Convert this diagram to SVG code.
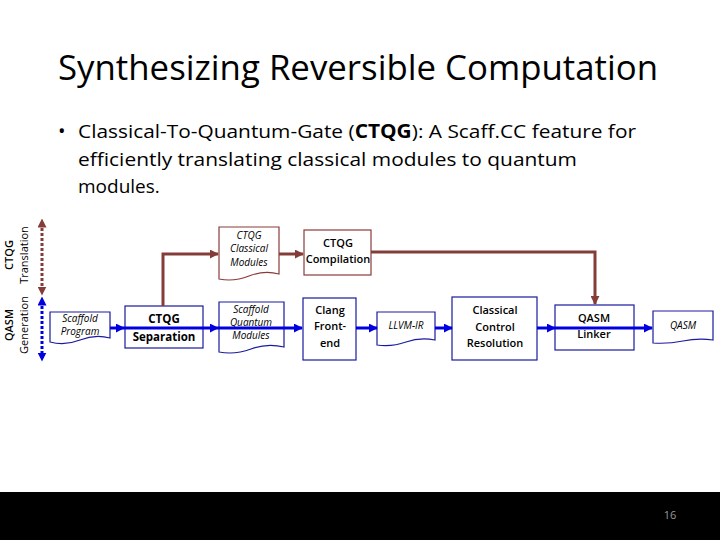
<svg xmlns="http://www.w3.org/2000/svg" width="720" height="540" viewBox="0 0 720 540">
<defs>
<style>
text{font-family:"Open Sans","Liberation Sans",sans-serif;fill:#000}
.box{fill:#fff;stroke:#1a1aa0;stroke-width:1.2}
.bbox{fill:#fff;stroke:#8b3a3a;stroke-width:1.2}
.n{font-size:11.5px;font-weight:bold;text-anchor:middle}
.s{font-size:11px;font-weight:600;text-anchor:middle}
.i{font-size:10px;font-style:italic;text-anchor:middle}
.blue{stroke:#0000e0;stroke-width:3;fill:none}
.brown{stroke:#843c39;stroke-width:3;fill:none}
</style>
<marker id="ab" viewBox="0 0 10 10" refX="9" refY="5" markerWidth="3" markerHeight="3" orient="auto"><path d="M0,0L10,5L0,10z" fill="#0000e0"/></marker>
<marker id="ar" viewBox="0 0 10 10" refX="9" refY="5" markerWidth="3" markerHeight="3" orient="auto"><path d="M0,0L10,5L0,10z" fill="#843c39"/></marker>
<marker id="abs" viewBox="0 0 10 10" refX="5" refY="5" markerWidth="3" markerHeight="3" orient="auto-start-reverse"><path d="M0,0L10,5L0,10z" fill="#0000e0"/></marker>
<marker id="ars" viewBox="0 0 10 10" refX="5" refY="5" markerWidth="3" markerHeight="3" orient="auto-start-reverse"><path d="M0,0L10,5L0,10z" fill="#843c39"/></marker>
</defs>
<rect width="720" height="540" fill="#fff"/>
<text x="358" y="80" font-size="34" text-anchor="middle" textLength="600" lengthAdjust="spacingAndGlyphs">Synthesizing Reversible Computation</text>
<text x="58" y="138" font-size="20">•</text>
<text x="78" y="138" font-size="19" textLength="558" lengthAdjust="spacingAndGlyphs">Classical-To-Quantum-Gate (<tspan font-weight="bold">CTQG</tspan>): A Scaff.CC feature for</text>
<text x="78" y="166" font-size="19" textLength="499" lengthAdjust="spacingAndGlyphs">efficiently translating classical modules to quantum</text>
<text x="78" y="193" font-size="19">modules.</text>
<text transform="translate(13,255) rotate(-90)" font-size="11" font-weight="600" text-anchor="middle">CTQG</text>
<text transform="translate(28,255) rotate(-90)" font-size="11" text-anchor="middle">Translation</text>
<text transform="translate(13,325) rotate(-90)" font-size="11" font-weight="600" text-anchor="middle">QASM</text>
<text transform="translate(28,325) rotate(-90)" font-size="11" text-anchor="middle">Generation</text>
<g id="scaffold-program"><path class="box" d="M50,312H110V338Q95,334 80,340T50,342Z"/><text class="i" x="80" y="322">Scaffold</text><text class="i" x="80" y="335">Program</text></g>
<g id="ctqg-separation"><rect class="box" x="125" y="306" width="78" height="42"/><text class="n" x="164" y="323">CTQG</text><text class="n" x="164" y="341">Separation</text></g>
<g id="ctqg-classical"><path class="bbox" d="M219,227H279V274Q264,270 249,276T219,279Z"/><text class="i" x="249" y="239">CTQG</text><text class="i" x="249" y="252">Classical</text><text class="i" x="249" y="266">Modules</text></g>
<g id="ctqg-compilation"><rect class="bbox" x="304" y="230" width="67" height="45"/><text class="s" x="338" y="247">CTQG</text><text class="s" x="338" y="263">Compilation</text></g>
<g id="scaffold-quantum"><path class="box" d="M219,302H284V347Q267,343 251,349T219,352Z"/><text class="i" x="251" y="313">Scaffold</text><text class="i" x="251" y="326">Quantum</text><text class="i" x="251" y="339">Modules</text></g>
<g id="clang"><rect class="box" x="303" y="298" width="53" height="62"/><text class="s" x="330" y="314">Clang</text><text class="s" x="330" y="330">Front-</text><text class="s" x="330" y="347">end</text></g>
<g id="llvm-ir"><path class="box" d="M377,312H435V340Q420,337 406,342T377,345Z"/><text class="i" x="406" y="329">LLVM-IR</text></g>
<g id="classical-control"><rect class="box" x="452" y="297" width="85" height="63"/><text class="s" x="495" y="314">Classical</text><text class="s" x="495" y="331">Control</text><text class="s" x="495" y="347">Resolution</text></g>
<g id="qasm-linker"><rect class="box" x="555" y="305" width="79" height="45"/><text class="s" x="594" y="322">QASM</text><text class="s" x="594" y="338">Linker</text></g>
<g id="qasm"><path class="box" d="M653,311H713V340Q698,338 683,341T653,343Z"/><text class="i" x="683" y="329">QASM</text></g>
<g id="connectors">
<line x1="42" y1="223" x2="42" y2="291" stroke="#843c39" stroke-width="3" stroke-dasharray="3,2" marker-start="url(#ars)" marker-end="url(#ars)"/>
<line x1="42" y1="301" x2="42" y2="357" stroke="#0000e0" stroke-width="3" stroke-dasharray="3,2" marker-start="url(#abs)" marker-end="url(#abs)"/>
<line class="blue" x1="110" y1="328" x2="124" y2="328" marker-end="url(#ab)"/>
<line class="blue" x1="124" y1="328" x2="218" y2="328" marker-end="url(#ab)"/>
<line class="blue" x1="218" y1="328" x2="302" y2="328" marker-end="url(#ab)"/>
<line class="blue" x1="356" y1="328" x2="377" y2="328" marker-end="url(#ab)"/>
<line class="blue" x1="435" y1="328" x2="452" y2="328" marker-end="url(#ab)"/>
<line class="blue" x1="537" y1="328" x2="555" y2="328" marker-end="url(#ab)"/>
<line class="blue" x1="555" y1="328" x2="652" y2="328" marker-end="url(#ab)"/>
<path class="brown" d="M163,306V254H218" marker-end="url(#ar)"/>
<line class="brown" x1="279" y1="254" x2="303" y2="254" marker-end="url(#ar)"/>
<path class="brown" d="M371,252H595V304" marker-end="url(#ar)"/>
</g>
<rect x="0" y="492" width="720" height="48" fill="#000"/>
<text x="670" y="519" font-size="11" text-anchor="middle" style="fill:#999">16</text>
</svg>
